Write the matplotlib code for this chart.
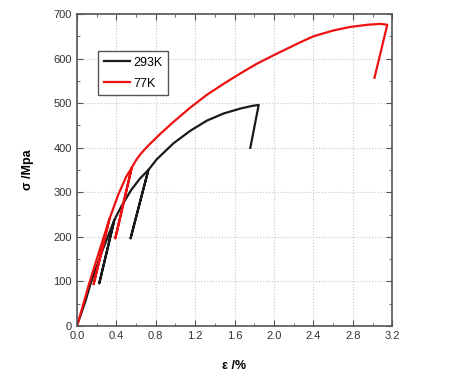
import matplotlib
matplotlib.use('Agg')
import matplotlib.pyplot as plt
from matplotlib.ticker import MultipleLocator

# 293K curve (strain %, stress MPa), including the two unload/reload loops
eps_293 = [0.0, 0.09, 0.14, 0.26, 0.38, 0.227, 0.38, 0.45, 0.55, 0.64, 0.725,
           0.545, 0.725, 0.81, 0.98, 1.15, 1.32, 1.49, 1.66, 1.78, 1.845, 1.76]
sig_293 = [0, 58, 96, 170, 238, 96, 238, 268, 305, 331, 350,
           197, 350, 374, 410, 438, 461, 477, 488, 494, 496, 400]

# 77K curve
eps_77 = [0.0, 0.06, 0.125, 0.23, 0.33, 0.17, 0.33, 0.42, 0.50, 0.556, 0.39,
          0.556, 0.6, 0.65, 0.725, 0.85, 0.98, 1.15, 1.32, 1.5, 1.66, 1.83,
          2.0, 2.27, 2.4, 2.6, 2.77, 2.95, 3.08, 3.15, 3.02]
sig_77 = [0, 45, 96, 170, 240, 94, 240, 295, 335, 355, 197,
          355, 372, 387, 405, 432, 458, 490, 519, 545, 567, 589,
          608, 637, 650, 663, 671, 676, 678, 676, 557]

plt.rcParams['font.family'] = ['Liberation Sans', 'DejaVu Sans']

fig = plt.figure(figsize=(4.55, 3.8), dpi=100)
ax = fig.add_axes([0.169, 0.142, 0.693, 0.821])

ax.plot(eps_293, sig_293, color='#1a1a1a', lw=1.6, label='293K')
ax.plot(eps_77, sig_77, color='#ee1111', lw=1.6, label='77K')

ax.set_xlim(0, 3.2)
ax.set_ylim(0, 700)
ax.xaxis.set_major_locator(MultipleLocator(0.4))
ax.xaxis.set_minor_locator(MultipleLocator(0.2))
ax.yaxis.set_major_locator(MultipleLocator(100))
ax.yaxis.set_minor_locator(MultipleLocator(50))
ax.set_xticklabels([f'{v:.1f}' for v in ax.get_xticks()])

ax.grid(True, which='major', linestyle=':', color='#c8c8c8', lw=0.8)
ax.tick_params(which='both', direction='in', top=True, right=True,
               color='#555555', labelsize=8, labelcolor='#333333')
ax.tick_params(which='major', length=4)
ax.tick_params(which='minor', length=2)
for s in ax.spines.values():
    s.set_color('#555555')
    s.set_linewidth(1.2)

ax.set_xlabel('ε /%', fontsize=9, fontweight='bold', labelpad=14)
ax.set_ylabel('σ /Mpa', fontsize=9, fontweight='bold', labelpad=14)

leg = ax.legend(loc='upper left', bbox_to_anchor=(0.068, 0.881),
                borderaxespad=0, fontsize=9, fancybox=False, framealpha=1,
                edgecolor='#555555', handlelength=2.1, handletextpad=0.25,
                borderpad=0.45, labelspacing=0.7)
leg.get_frame().set_linewidth(1.0)

fig.savefig('out.png', dpi=100)
